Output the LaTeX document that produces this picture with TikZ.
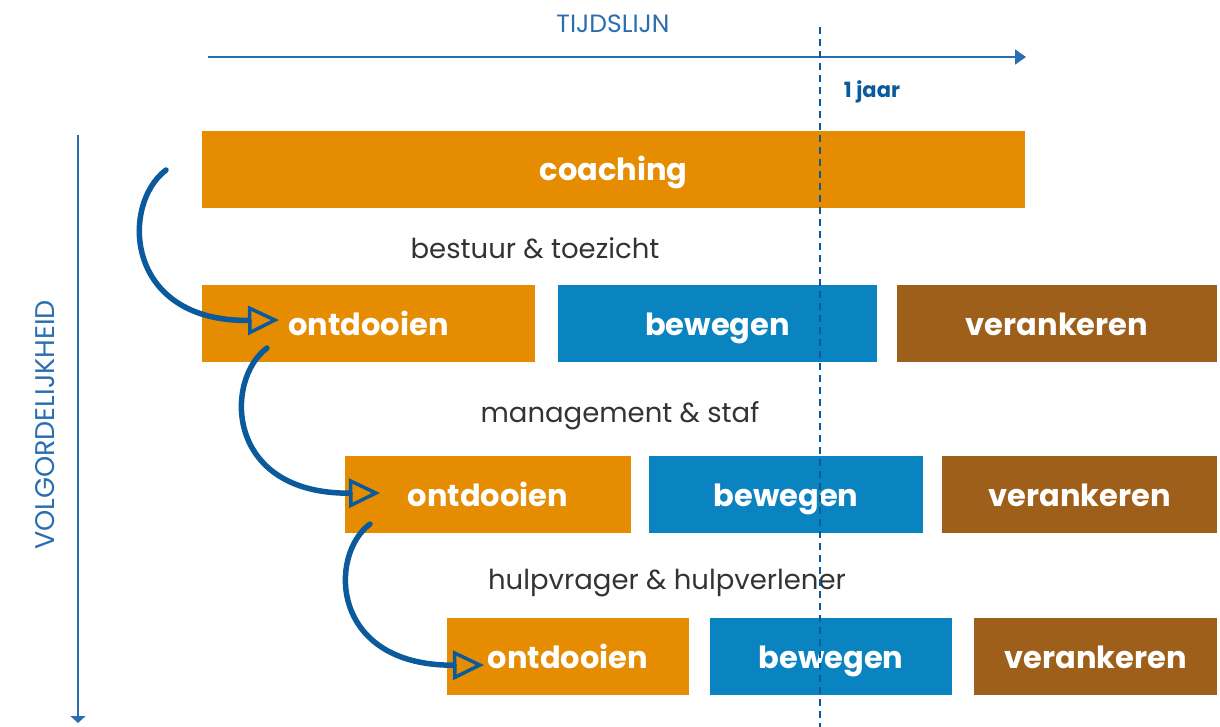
\documentclass[tikz,border=0pt]{standalone}
\usepackage{fontspec}
\setmainfont{Poppins}
\usetikzlibrary{arrows.meta}
\definecolor{orng}{HTML}{E68C00}
\definecolor{blu}{HTML}{0A84C1}
\definecolor{brwn}{HTML}{9E5F1A}
\definecolor{darkblu}{HTML}{0B5A9C}
\definecolor{axblu}{HTML}{2A6DB0}
\definecolor{txtgray}{HTML}{333333}
\tikzset{
  bar/.style={inner sep=0pt, text=white, font=\fontsize{30.5}{34}\selectfont\bfseries,
    text height=29pt, text depth=6pt},
  obox/.style={bar, fill=orng},
  bbox/.style={bar, fill=blu},
  rbox/.style={bar, fill=brwn},
  grouplbl/.style={text=txtgray, font=\fontsize{27.5}{32}\selectfont},
  axlbl/.style={text=axblu, font=\fontsize{25}{30}\selectfont},
  flow/.style={draw=darkblu, line width=5.5pt, line cap=round,
    -{Triangle[open, length=31pt, width=29pt, line width=3.5pt]}},
}
\begin{document}
\begin{tikzpicture}[x=1pt,y=-1pt]
\useasboundingbox (0,0) rectangle (1220,727);
% axes
\coordinate (tl0) at (208,57);
\coordinate (tl1) at (1026,57);
\draw[axblu, line width=1.8pt, -{Triangle[length=11pt,width=15pt]}] (tl0) -- (tl1);
\node[axlbl] (tlbl) at (613,24) {TIJDSLIJN};
\coordinate (va0) at (78,135);
\coordinate (va1) at (78,723);
\draw[axblu, line width=1.8pt, -{Triangle[length=7pt,width=15pt]}] (va0) -- (va1);
\node[axlbl, rotate=90, font=\fontsize{27}{30}\selectfont] (vlbl) at (45,425) {VOLGORDELIJKHEID};
% boxes
\node[obox, minimum width=823pt, minimum height=77pt] (coach) at (613.5,169.5) {coaching};
\node[grouplbl] (g1) at (535,248) {bestuur \& toezicht};
\node[obox, minimum width=333pt, minimum height=77pt] (o1) at (368.5,323.5) {ontdooien};
\node[bbox, minimum width=319pt, minimum height=77pt] (b1) at (717.5,323.5) {bewegen};
\node[rbox, minimum width=320pt, minimum height=77pt] (v1) at (1057,323.5) {verankeren};
\node[grouplbl] (g2) at (620,416) {management \& staf};
\node[obox, minimum width=286pt, minimum height=77pt] (o2) at (488,494.5) {ontdooien};
\node[bbox, minimum width=274pt, minimum height=77pt] (b2) at (786,494.5) {bewegen};
\node[rbox, minimum width=275pt, minimum height=77pt] (v2) at (1079.5,494.5) {verankeren};
\node[grouplbl] (g3) at (667,583) {hulpvrager \& hulpverlener};
\node[obox, minimum width=242pt, minimum height=77pt] (o3) at (568,656.5) {ontdooien};
\node[bbox, minimum width=242pt, minimum height=77pt] (b3) at (831,656.5) {bewegen};
\node[rbox, minimum width=243pt, minimum height=77pt] (v3) at (1095.5,656.5) {verankeren};
% dashed one-year line
\coordinate (d0) at (820,27);
\coordinate (d1) at (820,727);
\draw[darkblu, line width=1.6pt, dash pattern=on 7pt off 5pt] (d0) -- (d1);
\node[text=darkblu, font=\fontsize{21}{24}\selectfont\bfseries] (jr) at (872,92) {1 jaar};
% flow arrows
\coordinate (a1s) at (166,170);
\coordinate (a1e) at (279,320);
\coordinate (a2s) at (267,348);
\coordinate (a2e) at (380,493);
\coordinate (a3s) at (370,524);
\coordinate (a3e) at (484,665);
\draw[flow] (a1s) .. controls (120,205) and (125,322) .. (a1e);
\draw[flow] (a2s) .. controls (224,380) and (225,494) .. (a2e);
\draw[flow] (a3s) .. controls (328,555) and (330,666) .. (a3e);
\end{tikzpicture}
\end{document}
